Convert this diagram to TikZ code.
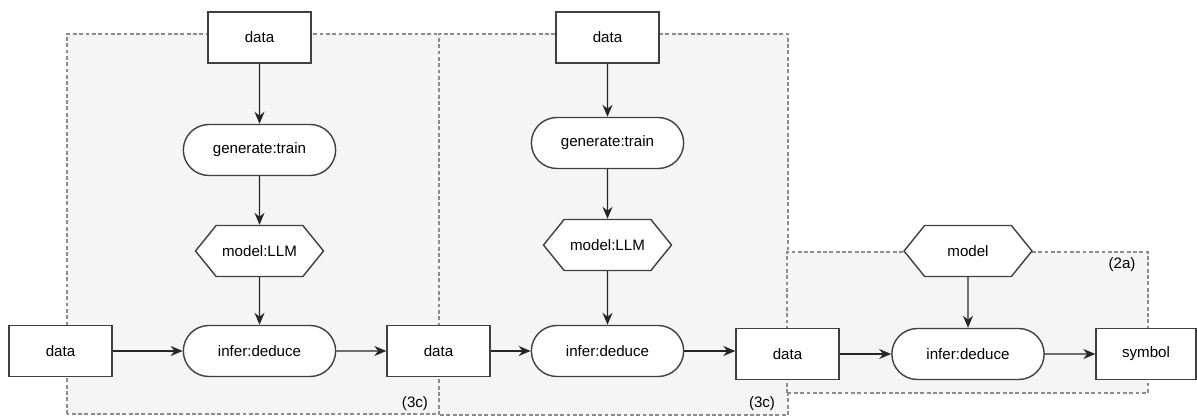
\documentclass[tikz,border=0pt]{standalone}
\usepackage{fontspec}
\setmainfont{Liberation Sans}
\usepackage{tikz}
\usetikzlibrary{shapes.misc}
\usetikzlibrary{shapes.symbols}
\usetikzlibrary{arrows.meta}

\begin{document}
\begin{tikzpicture}[scale=1,
        font=\fontsize{8.6}{10}\selectfont,
        databox/.style={draw=black!75, fill=white, line width=0.8pt, minimum width=2.06cm, minimum height=1.02cm},
        process/.style={draw=black!75, fill=white, line width=0.8pt, rounded rectangle, minimum width=3.28cm, minimum height=1.02cm},
        modelhex/.style={draw=black!75, fill=white, line width=0.8pt, signal, signal to=west and east, signal pointer angle=102, minimum width=2.56cm, minimum height=1.02cm},
        groupbox/.style={draw=black!45, dash pattern=on 2.2pt off 1.4pt, fill=black!4, line width=0.6pt},
        flow/.style={-{Stealth[length=2.4mm,width=2mm]}, draw=black!85, line width=0.75pt}]
         \useasboundingbox (0,0) rectangle (23.94,8.38);
         % dashed groups
         \draw[groupbox] (1.34,0.10) rectangle (8.82,7.70);
         \draw[groupbox] (8.78,0.08) rectangle (15.76,7.70);
         \draw[groupbox] (15.74,0.52) rectangle (22.96,3.34);
         \node (lab1) at (8.30,0.30){(3c)};
         \node (lab2) at (15.24,0.30){(3c)};
         \node (lab3) at (22.44,3.08){(2a)};
         % first block
         \node[databox] (dtop1) at (5.19,7.63){data};
         \node[process] (gen1) at (5.19,5.38){generate:train};
         \node[modelhex] (llm1) at (5.19,3.36){model:LLM};
         \node[process] (inf1) at (5.19,1.36){infer:deduce};
         \node[databox] (din) at (1.21,1.36){data};
         \node[databox] (dmid1) at (8.77,1.36){data};
         % second block
         \node[databox] (dtop2) at (12.15,7.63){data};
         \node[process] (gen2) at (12.15,5.52){generate:train};
         \node[modelhex] (llm2) at (12.15,3.48){model:LLM};
         \node[process] (inf2) at (12.15,1.36){infer:deduce};
         \node[databox] (dmid2) at (15.75,1.30){data};
         % last block
         \node[modelhex] (mdl) at (19.36,3.36){model};
         \node[process] (inf3) at (19.36,1.30){infer:deduce};
         \node[databox, minimum width=2.0cm] (sym) at (22.92,1.30){symbol};
         % arrows
         \draw[flow] (dtop1) -- (gen1);
         \draw[flow] (gen1) -- (llm1);
         \draw[flow] (llm1) -- (inf1);
         \draw[flow] (din) -- (inf1);
         \draw[flow] (inf1) -- (dmid1);
         \draw[flow] (dtop2) -- (gen2);
         \draw[flow] (gen2) -- (llm2);
         \draw[flow] (llm2) -- (inf2);
         \draw[flow] (dmid1) -- (inf2);
         \draw[flow] (inf2.east) -- (inf2.east -| dmid2.west);
         \draw[flow] (mdl) -- (inf3);
         \draw[flow] (dmid2) -- (inf3);
         \draw[flow] (inf3) -- (sym);
    \end{tikzpicture}
\end{document}
